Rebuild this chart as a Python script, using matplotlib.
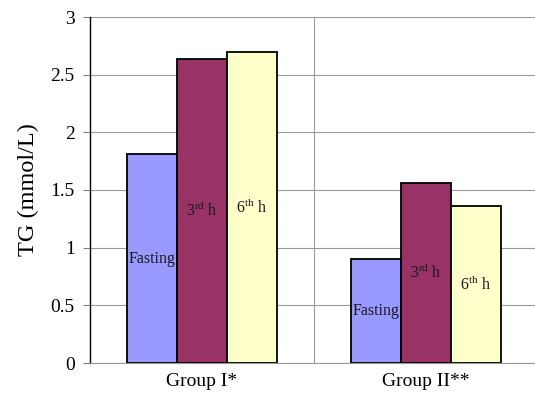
import matplotlib
matplotlib.use('Agg')
import matplotlib.pyplot as plt
import numpy as np

groups = ['Group I*', 'Group II**']
series = ['Fasting', '3$^{\\rm rd}$ h', '6$^{\\rm th}$ h']
fasting = [1.81, 0.90]
third_h = [2.64, 1.56]
sixth_h = [2.70, 1.36]
colors = ['#9999FF', '#993366', '#FFFFCC']

plt.rcParams['font.family'] = 'Liberation Serif'
plt.rcParams['mathtext.fontset'] = 'custom'
plt.rcParams['mathtext.rm'] = 'Liberation Serif'

fig = plt.figure(figsize=(5.35, 3.95), dpi=100)
ax = fig.add_axes([90/535, 32/395, 445/535, 346/395])

x = np.arange(len(groups))
w = 0.223
for i, (vals, col, lab) in enumerate(zip([fasting, third_h, sixth_h], colors, series)):
    bars = ax.bar(x + (i - 1) * w, vals, w, color=col, edgecolor='black', linewidth=1.3, zorder=3)
    for b, v in zip(bars, vals):
        ax.text(b.get_x() + b.get_width() / 2, v / 2, lab, ha='center', va='center',
                fontsize=11.5, color='#1a1a1a', zorder=4)

ax.set_xlim(-0.5, 1.487)
ax.set_ylim(0, 3)
ax.set_yticks(np.arange(0, 3.01, 0.5))
ax.set_yticklabels(['0', '0.5', '1', '1.5', '2', '2.5', '3'], fontsize=14)
ax.set_xticks(x)
ax.set_xticklabels(groups, fontsize=14)
ax.tick_params(axis='x', length=0, pad=7)
ax.tick_params(axis='y', length=5, width=0.8, color='#808080', pad=6)
ax.yaxis.grid(True, color='#999999', linewidth=0.8, zorder=0)
ax.axvline(0.5, color='#999999', linewidth=0.8, zorder=0)
ax.set_ylabel('TG (mmol/L)', fontsize=17.5, labelpad=8)
for s in ['top', 'right']:
    ax.spines[s].set_visible(False)
ax.spines['bottom'].set_color('#999999')
ax.spines['left'].set_color('black')
ax.spines['left'].set_linewidth(1.0)

fig.savefig('out.png', dpi=100)
